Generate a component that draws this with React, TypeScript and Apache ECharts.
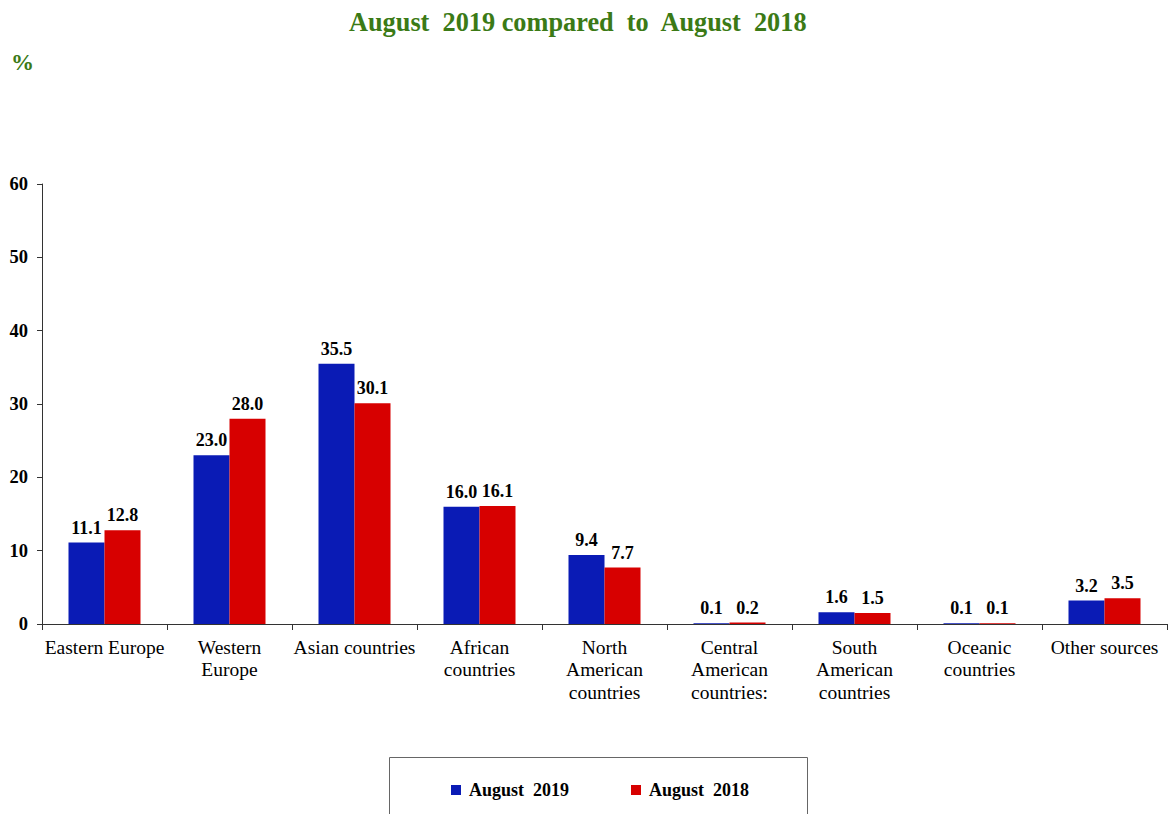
import React, { useEffect, useRef } from "react";
import * as echarts from "echarts";

const categories = [
  "Eastern Europe",
  "Western\nEurope",
  "Asian countries",
  "African\ncountries",
  "North\nAmerican\ncountries",
  "Central\nAmerican\ncountries:",
  "South\nAmerican\ncountries",
  "Oceanic\ncountries",
  "Other sources",
];
const aug2019 = [11.1, 23.0, 35.5, 16.0, 9.4, 0.1, 1.6, 0.1, 3.2];
const aug2018 = [12.8, 28.0, 30.1, 16.1, 7.7, 0.2, 1.5, 0.1, 3.5];
const seriesNames = ["August  2019", "August  2018"];
const titleText = "August  2019 compared  to  August  2018";
const unitText = "%";

const SERIF = "'Liberation Serif', 'Times New Roman', serif";

export default function App() {
  const ref = useRef<HTMLDivElement>(null);
  useEffect(() => {
    const chart = echarts.init(ref.current!, null, { renderer: "svg" });
    const label = {
      show: true,
      position: "top" as const,
      distance: 6,
      fontFamily: SERIF,
      fontWeight: "bold" as const,
      fontSize: 18,
      color: "#000",
      formatter: (p: any) => Number(p.value).toFixed(1),
    };
    chart.setOption({
      animation: false,
      backgroundColor: "#fff",
      title: {
        text: titleText,
        left: 344,
        top: 4,
        textStyle: {
          fontFamily: SERIF,
          fontWeight: "bold",
          fontSize: 26.3,
          color: "#3b7a16",
        },
      },
      graphic: [
        {
          type: "text",
          left: 11,
          top: 51,
          style: {
            text: unitText,
            fontFamily: SERIF,
            fontWeight: "bold",
            fontSize: 23,
            fill: "#3b7a16",
          },
        },
        {
          type: "rect",
          shape: { x: 389.5, y: 757.5, width: 418, height: 80 },
          style: { fill: "none", stroke: "#666", lineWidth: 1 },
          z: 0,
        },
      ],
      legend: {
        left: 446,
        top: 776,
        itemWidth: 10,
        itemHeight: 10,
        itemGap: 62,
        icon: "rect",
        textStyle: {
          fontFamily: SERIF,
          fontWeight: "bold",
          fontSize: 18,
          color: "#000",
          padding: [0, 0, 0, 3],
        },
      },
      grid: { left: 42, right: 5, top: 184, bottom: 190, containLabel: false },
      xAxis: {
        type: "category",
        data: categories,
        axisLine: { lineStyle: { color: "#333", width: 1 } },
        axisTick: { show: true, length: 6, alignWithLabel: false, lineStyle: { color: "#333" } },
        axisLabel: {
          interval: 0,
          margin: 12,
          fontFamily: SERIF,
          fontSize: 19.5,
          color: "#000",
          lineHeight: 22.5,
        },
      },
      yAxis: {
        type: "value",
        min: 0,
        max: 60,
        interval: 10,
        splitLine: { show: false },
        axisLine: { show: true, lineStyle: { color: "#333", width: 1 } },
        axisTick: { show: true, length: 5, lineStyle: { color: "#333" } },
        axisLabel: {
          margin: 14,
          fontFamily: SERIF,
          fontWeight: "bold",
          fontSize: 18.5,
          color: "#000",
        },
      },
      series: [
        {
          name: seriesNames[0],
          type: "bar",
          data: aug2019,
          barWidth: 36,
          barGap: "0%",
          itemStyle: { color: "#0a1bb5" },
          label,
        },
        {
          name: seriesNames[1],
          type: "bar",
          data: aug2018,
          barWidth: 36,
          barGap: "0%",
          itemStyle: { color: "#d70000" },
          label,
        },
      ],
    });
    return () => chart.dispose();
  }, []);
  return <div ref={ref} style={{ width: 1172, height: 814, position: "absolute", left: 0, top: 0 }} />;
}
